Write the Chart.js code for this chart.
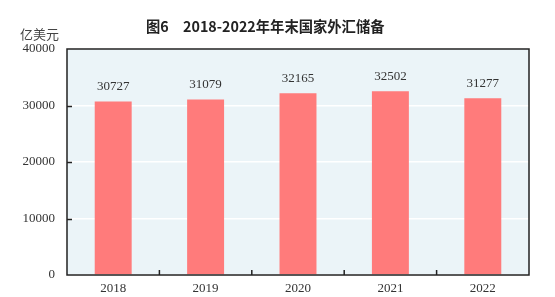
<!DOCTYPE html>
<html lang="zh">
<head>
    <meta charset="UTF-8">
    <title>图6 2018-2022年年末国家外汇储备</title>
    <script src="https://cdn.jsdelivr.net/npm/chart.js"></script>
    <style>
        * { margin: 0; padding: 0; box-sizing: border-box; }
        body { background: #fff; width: 555px; height: 297px; overflow: hidden; }
        .chart-container { position: relative; width: 555px; height: 297px; }
    </style>
</head>
<body>
    <div class="chart-container">
        <canvas id="reserveChart"></canvas>
    </div>

    <script>
        const titleText = "图6\u30002018-2022年年末国家外汇储备";
        const unitText = "亿美元";
        const years = ["2018", "2019", "2020", "2021", "2022"];
        const reserves = [30727, 31079, 32165, 32502, 31277];
        const yTicks = [0, 10000, 20000, 30000, 40000];

        const serif = "'Liberation Serif', 'DejaVu Serif', serif";

        // fond, cadre, petits traits vers l'intérieur, valeurs et titres
        const decor = {
            id: 'decor',
            beforeDraw(chart) {
                const { ctx, chartArea: a } = chart;
                ctx.save();
                ctx.fillStyle = '#EBF4F8';
                ctx.fillRect(a.left, a.top, a.right - a.left, a.bottom - a.top);
                ctx.restore();
            },
            afterDatasetsDraw(chart) {
                const { ctx, chartArea: a, scales } = chart;
                ctx.save();
                ctx.strokeStyle = '#222';
                ctx.lineWidth = 1.5;
                ctx.strokeRect(a.left, a.top, a.right - a.left, a.bottom - a.top);

                ctx.beginPath();
                yTicks.slice(1, -1).forEach(v => {
                    const y = Math.round(scales.y.getPixelForValue(v)) + 0.5;
                    ctx.moveTo(a.left, y);
                    ctx.lineTo(a.left + 5, y);
                });
                for (let i = 1; i < years.length; i++) {
                    const x = (scales.x.getPixelForValue(i - 1) + scales.x.getPixelForValue(i)) / 2;
                    ctx.moveTo(x, a.bottom);
                    ctx.lineTo(x, a.bottom - 5);
                }
                ctx.stroke();

                // valeurs au-dessus des barres
                ctx.fillStyle = '#333';
                ctx.font = "13px " + serif;
                ctx.textAlign = 'center';
                ctx.textBaseline = 'middle';
                reserves.forEach((v, i) => {
                    ctx.fillText(String(v), scales.x.getPixelForValue(i), scales.y.getPixelForValue(v) - 15);
                });

                // titre et unité
                ctx.fillStyle = '#222';
                ctx.textAlign = 'left';
                ctx.font = "bold 14.3px 'Noto Sans CJK SC', sans-serif";
                ctx.fillText(titleText, 146, 27);
                ctx.fillStyle = '#444';
                ctx.font = "13px 'Noto Sans CJK SC', sans-serif";
                ctx.fillText(unitText, 20, 34);
                ctx.restore();
            }
        };

        new Chart(document.getElementById("reserveChart"), {
            type: 'bar',
            data: {
                labels: years,
                datasets: [{
                    data: reserves,
                    backgroundColor: '#FF7B7B',
                    borderWidth: 0,
                    categoryPercentage: 1,
                    barPercentage: 0.4
                }]
            },
            options: {
                responsive: true,
                maintainAspectRatio: false,
                animation: false,
                layout: { padding: { top: 49, right: 26, bottom: 0, left: 0 } },
                plugins: {
                    legend: { display: false },
                    tooltip: { enabled: false },
                    title: { display: false }
                },
                scales: {
                    x: {
                        grid: { display: false, drawTicks: false },
                        border: { display: false },
                        ticks: { color: '#333', font: { family: serif, size: 13 }, padding: 6 },
                        afterFit(s) { s.height = 22; }
                    },
                    y: {
                        min: 0,
                        max: 40000,
                        afterBuildTicks(s) { s.ticks = yTicks.map(v => ({ value: v })); },
                        grid: { color: '#FFFFFF', lineWidth: 1.5, drawTicks: false },
                        border: { display: false },
                        ticks: {
                            color: '#333',
                            font: { family: serif, size: 13 },
                            padding: 12,
                            callback: v => String(v)
                        },
                        afterFit(s) { s.width = 67; }
                    }
                }
            },
            plugins: [decor]
        });
    </script>
</body>
</html>
